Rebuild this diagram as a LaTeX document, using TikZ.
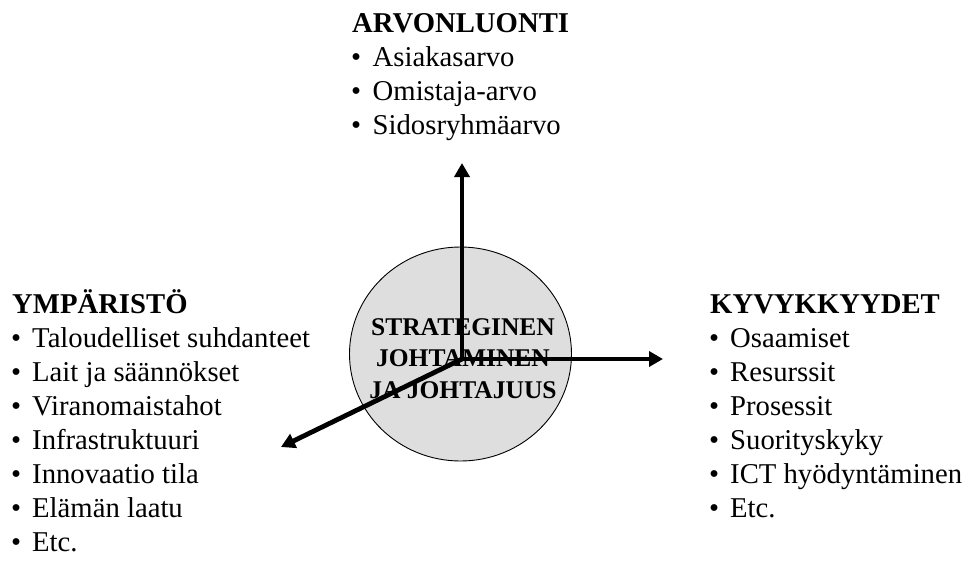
\documentclass[tikz,border=0pt]{standalone}
\usepackage{fontspec}
\setmainfont{Liberation Serif}
\usetikzlibrary{arrows.meta,shapes.geometric}
\begin{document}
\begin{tikzpicture}[x=1pt,y=-1pt,
  listtext/.style={anchor=base west, inner sep=0pt, font=\fontsize{28.7}{34}\selectfont},
  listhead/.style={anchor=base west, inner sep=0pt, font=\fontsize{28.7}{34}\selectfont\bfseries},
  core/.style={ellipse, draw=black, line width=0.9pt, fill=black!13,
    minimum width=222pt, minimum height=214pt, inner sep=0pt},
  coretext/.style={align=center, inner sep=0pt, font=\fontsize{25.5}{31.5}\selectfont\bfseries},
  axis/.style={line width=4.8pt, line cap=rect, -{Triangle[length=14pt,width=15pt]}}
]
\useasboundingbox (0,0) rectangle (969,560);

% central circle with its label
\node[core] (core) at (460.5,354) {};
\node[coretext] (coretxt) at (463,358.5) {STRATEGINEN\\JOHTAMINEN\\JA JOHTAJUUS};

% top block: value creation
\node[listhead] (arv-h) at (352,32) {ARVONLUONTI};
\foreach \t [count=\i] in {Asiakasarvo, Omistaja-arvo, Sidosryhmäarvo} {
  \node[listtext] (arv-b\i) at (351,32+34*\i) {•};
  \node[listtext] (arv-\i) at (372.5,32+34*\i) {\t};
}

% left block: environment
\node[listhead] (ymp-h) at (12,313) {YMPÄRISTÖ};
\foreach \t [count=\i] in {Taloudelliset suhdanteet, Lait ja säännökset, Viranomaistahot,
    Infrastruktuuri, Innovaatio tila, Elämän laatu, Etc.} {
  \node[listtext] (ymp-b\i) at (11,313+34*\i) {•};
  \node[listtext] (ymp-\i) at (32,313+34*\i) {\t};
}

% right block: capabilities
\node[listhead] (kyv-h) at (710,313) {KYVYKKYYDET};
\foreach \t [count=\i] in {Osaamiset, Resurssit, Prosessit, Suorityskyky,
    ICT hyödyntäminen, Etc.} {
  \node[listtext] (kyv-b\i) at (709,313+34*\i) {•};
  \node[listtext] (kyv-\i) at (730,313+34*\i) {\t};
}

% the three axes
\coordinate (o) at (462,359);
\coordinate (up) at (462,163);
\coordinate (rt) at (663,359);
\coordinate (dl) at (281,447);
\draw[axis] (o) -- (up);
\draw[axis] (o) -- (rt);
\draw[axis] (o) -- (dl);
\end{tikzpicture}
\end{document}
